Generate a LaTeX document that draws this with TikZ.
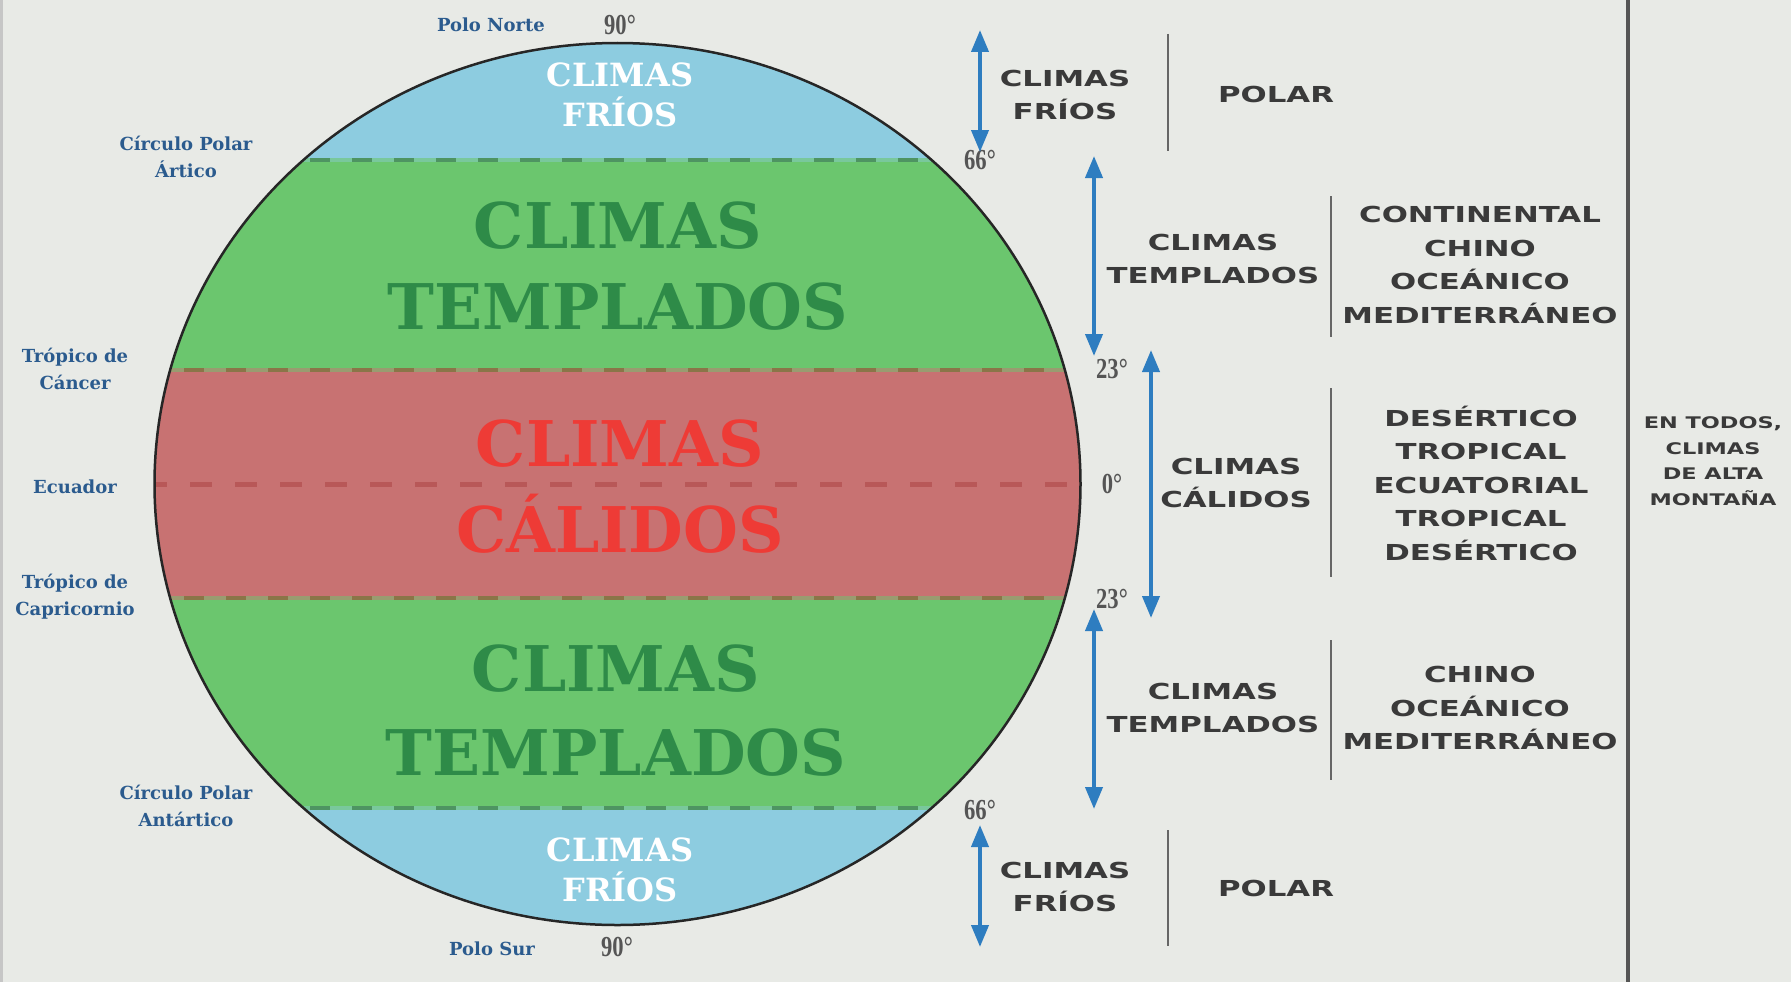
\documentclass[tikz,border=0pt]{standalone}
\usepackage{fontspec}
\usetikzlibrary{arrows.meta}
\newfontfamily\slab{DejaVu Serif}
\newfontfamily\widesans[FakeStretch=1.4]{DejaVu Sans}
\newfontfamily\degfont[FakeStretch=0.78]{Liberation Serif}
\definecolor{bg}{HTML}{E8EAE6}
\definecolor{coldblue}{HTML}{8DCCE0}
\definecolor{tempgreen}{HTML}{6BC66E}
\definecolor{warmred}{HTML}{C87272}
\definecolor{txtgreen}{HTML}{2E8B48}
\definecolor{txtred}{HTML}{EE3B36}
\definecolor{labelblue}{HTML}{2B5B8E}
\definecolor{arrowblue}{HTML}{2E7DC0}
\definecolor{darktext}{HTML}{3A3A3A}
\definecolor{degcol}{HTML}{555555}
\definecolor{olivedash}{HTML}{8A7548}
\definecolor{greendash}{HTML}{4E9462}
\definecolor{eqdash}{HTML}{B85858}
\tikzset{
  bandtxt/.style={font=\slab\bfseries\fontsize{63}{76}\selectfont, inner sep=0pt, anchor=base},
  coldtxt/.style={font=\slab\bfseries\fontsize{32}{40}\selectfont, text=white, inner sep=0pt, anchor=base},
  sidelbl/.style={font=\slab\bfseries\fontsize{18}{27}\selectfont, text=labelblue, align=center, inner sep=0pt},
  deg/.style={font=\degfont\bfseries\fontsize{29}{30}\selectfont, text=degcol, inner sep=0pt},
  righttxt/.style={font=\widesans\bfseries\fontsize{22}{33.5}\selectfont, text=darktext, align=center, inner sep=0pt},
  smalltxt/.style={font=\widesans\bfseries\fontsize{16}{25.5}\selectfont, text=darktext, align=center, inner sep=0pt},
  arr/.style={arrowblue, line width=4pt, {Triangle[width=17pt,length=22pt]}-{Triangle[width=17pt,length=22pt]}},
  sep/.style={draw=degcol!90, line width=2pt},
  banddash/.style={line width=4pt, dash pattern=on 20pt off 22pt}
}
\begin{document}
\begin{tikzpicture}[x=1pt,y=-1pt]
\fill[bg] (0,0) rectangle (1791,982);
\useasboundingbox (0,0) rectangle (1791,982);
\fill[gray!45] (0,0) rectangle (3,982);
% globe bands
\coordinate (gc) at (617.5,484);
\begin{scope}
  \clip (gc) ellipse [x radius=463pt, y radius=441pt];
  \fill[coldblue] (100,0) rectangle (1100,160);
  \fill[tempgreen] (100,160) rectangle (1100,370);
  \fill[warmred] (100,370) rectangle (1100,598);
  \fill[tempgreen] (100,598) rectangle (1100,808);
  \fill[coldblue] (100,808) rectangle (1100,982);
  \draw[line width=4pt, color=tempgreen!60!coldblue] (100,160) -- (1100,160);
  \draw[banddash, color=greendash] (100,160) -- (1100,160);
  \draw[line width=4pt, color=tempgreen!50!warmred] (100,370) -- (1100,370);
  \draw[banddash, color=olivedash] (100,370) -- (1100,370);
  \draw[line width=4pt, color=tempgreen!50!warmred] (100,598) -- (1100,598);
  \draw[banddash, color=olivedash] (100,598) -- (1100,598);
  \draw[line width=4pt, color=tempgreen!60!coldblue] (100,808) -- (1100,808);
  \draw[banddash, color=greendash] (100,808) -- (1100,808);
  \draw[line width=5pt, color=eqdash, dash pattern=on 22pt off 23pt] (100,484) -- (1100,484);
\end{scope}
\draw[line width=2.5pt, black!85] (gc) ellipse [x radius=463pt, y radius=441pt];
% band texts
\node[coldtxt] (c1a) at (620,86) {CLIMAS};
\node[coldtxt] (c1b) at (620,126) {FRÍOS};
\node[bandtxt, text=txtgreen] (t1a) at (618,248) {CLIMAS};
\node[bandtxt, text=txtgreen] (t1b) at (618,329) {TEMPLADOS};
\node[bandtxt, text=txtred] (w1a) at (620,466) {CLIMAS};
\node[bandtxt, text=txtred] (w1b) at (620,552) {CÁLIDOS};
\node[bandtxt, text=txtgreen] (t2a) at (616,691) {CLIMAS};
\node[bandtxt, text=txtgreen] (t2b) at (616,775) {TEMPLADOS};
\node[coldtxt] (c2a) at (620,861) {CLIMAS};
\node[coldtxt] (c2b) at (620,901) {FRÍOS};
% left labels
\node[sidelbl] (pn) at (491,25) {Polo Norte};
\node[sidelbl] (cpa) at (186,157) {Círculo Polar\\Ártico};
\node[sidelbl] (tc) at (75,369) {Trópico de\\Cáncer};
\node[sidelbl] (ec) at (75,487) {Ecuador};
\node[sidelbl] (tcp) at (75,597) {Trópico de\\Capricornio};
\node[sidelbl] (cpan) at (186,806) {Círculo Polar\\Antártico};
\node[sidelbl] (ps) at (492,949) {Polo Sur};
% degree labels
\node[deg] (d90n) at (620,25) {90°};
\node[deg] (d66n) at (980,160) {66°};
\node[deg] (d23n) at (1112,369) {23°};
\node[deg] (d0) at (1112,484) {0°};
\node[deg] (d23s) at (1112,599) {23°};
\node[deg] (d66s) at (980,810) {66°};
\node[deg] (d90s) at (617,947) {90°};
% arrows
\coordinate (a1t) at (980,30);
\coordinate (a1b) at (980,152);
\coordinate (a2t) at (1094,156);
\coordinate (a2b) at (1094,356);
\coordinate (a3t) at (1151,350);
\coordinate (a3b) at (1151,618);
\coordinate (a4t) at (1094,609);
\coordinate (a4b) at (1094,809);
\coordinate (a5t) at (980,825);
\coordinate (a5b) at (980,947);
\draw[arr] (a1t) -- (a1b);
\draw[arr] (a2t) -- (a2b);
\draw[arr] (a3t) -- (a3b);
\draw[arr] (a4t) -- (a4b);
\draw[arr] (a5t) -- (a5b);
% right texts
\node[righttxt] (r1) at (1065,95) {CLIMAS\\FRÍOS};
\coordinate (s1t) at (1168,34); \coordinate (s1b) at (1168,151);
\draw[sep] (s1t) -- (s1b);
\node[righttxt] (p1) at (1276,94) {POLAR};
\node[righttxt] (r2) at (1213,259) {CLIMAS\\TEMPLADOS};
\coordinate (s2t) at (1331,196); \coordinate (s2b) at (1331,337);
\draw[sep] (s2t) -- (s2b);
\node[righttxt] (l2) at (1480,265) {CONTINENTAL\\CHINO\\OCEÁNICO\\MEDITERRÁNEO};
\node[righttxt] (r3) at (1236,483) {CLIMAS\\CÁLIDOS};
\coordinate (s3t) at (1331,388); \coordinate (s3b) at (1331,577);
\draw[sep] (s3t) -- (s3b);
\node[righttxt] (l3) at (1481,483) {DESÉRTICO\\TROPICAL\\ECUATORIAL\\TROPICAL\\DESÉRTICO};
\node[righttxt] (r4) at (1213,708) {CLIMAS\\TEMPLADOS};
\coordinate (s4t) at (1331,640); \coordinate (s4b) at (1331,780);
\draw[sep] (s4t) -- (s4b);
\node[righttxt] (l4) at (1480,708) {CHINO\\OCEÁNICO\\MEDITERRÁNEO};
\node[righttxt] (r5) at (1065,887) {CLIMAS\\FRÍOS};
\coordinate (s5t) at (1168,830); \coordinate (s5b) at (1168,946);
\draw[sep] (s5t) -- (s5b);
\node[righttxt] (p5) at (1276,888) {POLAR};
% big divider
\coordinate (vt) at (1628,0); \coordinate (vb) at (1628,982);
\draw[line width=3.5pt, degcol] (vt) -- (vb);
\node[smalltxt] (alt) at (1713,461) {EN TODOS,\\CLIMAS\\DE ALTA\\MONTAÑA};
\end{tikzpicture}
\end{document}
